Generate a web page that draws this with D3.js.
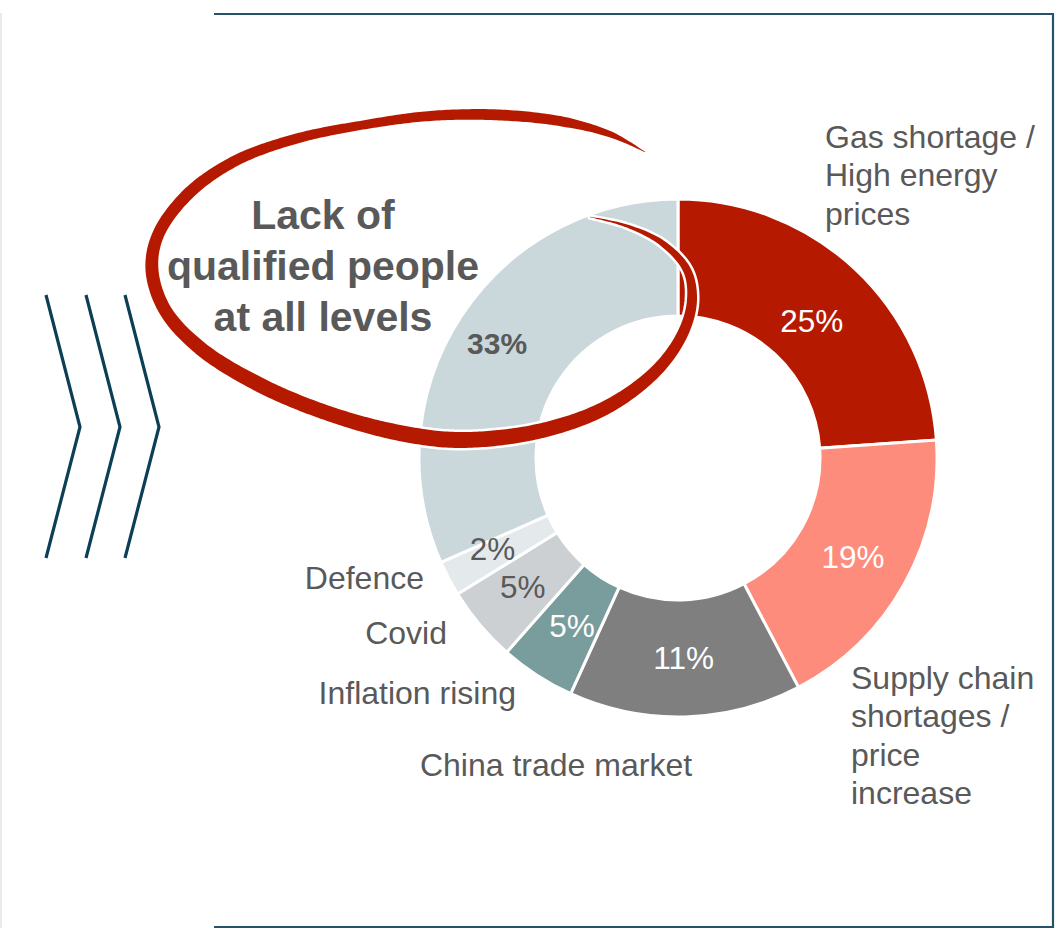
<!DOCTYPE html>
<html>
<head>
<meta charset="utf-8">
<script src="https://cdn.jsdelivr.net/npm/d3@7"></script>
<style>
  html, body { margin: 0; padding: 0; background: #ffffff; }
  svg { display: block; }
  text { font-family: "Liberation Sans", Arial, Helvetica, sans-serif; }
</style>
</head>
<body>
<svg id="chart" width="1062" height="930"></svg>
<script>
// ---------------- data ----------------
const categories = ["Gas shortage / High energy prices", "Supply chain shortages / price increase",
  "China trade market", "Inflation rising", "Covid", "Defence", "Lack of qualified people at all levels"];
// slice sizes as drawn (share of the ring)
const values = [23.9, 18.4, 14.5, 4.7, 4.7, 2.2, 31.6];
// percentage labels printed on the slices
const valueLabels = ["25%", "19%", "11%", "5%", "5%", "2%", "33%"];
const outsideLabels = [
  ["Gas shortage /", "High energy", "prices"],
  ["Supply chain", "shortages /", "price", "increase"],
  ["China trade market"],
  ["Inflation rising"],
  ["Covid"],
  ["Defence"],
  []
];
const highlightText = ["Lack of", "qualified people", "at all levels"];

// ---------------- styles / layout ----------------
const colors = ["#B51A00", "#FE8C7C", "#7F7F7F", "#799C9D", "#CDD0D3", "#E4E9EC", "#CAD8DC"];
const labelColors = ["#ffffff", "#ffffff", "#ffffff", "#ffffff", "#595959", "#595959", "#595959"];
const labelWeights = ["normal", "normal", "normal", "normal", "normal", "normal", "bold"];
const labelNudge = [[-3, 10], [0, 1], [0, 0], [3, 0], [-2, 0], [-8, -2], [-13, -5]];
// outside label anchors: [x, firstBaseline, anchor]
const outsideLayout = [
  [825, 148, "start"], [851, 689, "start"], [556, 776, "middle"],
  [516, 704, "end"], [447, 644, "end"], [424, 589, "end"], null
];
const cx = 678, cy = 458, rOuter = 259, rInner = 142;
const textGrey = "#595959";
const frameColor = "#24536A";

const svg = d3.select("#chart");

// ---------------- frame ----------------
svg.append("line").attr("x1", 1).attr("x2", 1).attr("y1", 13).attr("y2", 928)
  .attr("stroke", "#E6EBEE").attr("stroke-width", 2);
svg.append("path")
  .attr("d", d3.line()([[214, 14], [1053, 14], [1053, 927], [214, 927]]))
  .attr("fill", "none").attr("stroke", frameColor).attr("stroke-width", 2.2);

// chevrons
const chevX = [46, 86, 125];
chevX.forEach(x0 => {
  svg.append("path")
    .attr("d", d3.line()([[x0, 295], [x0 + 34, 427], [x0, 558]]))
    .attr("fill", "none").attr("stroke", "#0C3F56").attr("stroke-width", 3.2);
});

// ---------------- donut ----------------
const pie = d3.pie().sort(null).value(d => d).startAngle(0).endAngle(2 * Math.PI);
const arcs = pie(values);
const arc = d3.arc().innerRadius(rInner).outerRadius(rOuter);
const g = svg.append("g").attr("transform", `translate(${cx},${cy})`);
g.selectAll("path.slice").data(arcs).join("path")
  .attr("class", "slice")
  .attr("d", arc)
  .attr("fill", (d, i) => colors[i])
  .attr("stroke", "#ffffff").attr("stroke-width", 3).attr("stroke-linejoin", "miter");

g.selectAll("text.val").data(arcs).join("text")
  .attr("class", "val")
  .attr("x", (d, i) => arc.centroid(d)[0] + labelNudge[i][0])
  .attr("y", (d, i) => arc.centroid(d)[1] + labelNudge[i][1])
  .attr("dy", "0.35em")
  .attr("text-anchor", "middle")
  .attr("font-size", (d, i) => labelWeights[i] === "bold" ? 30 : 31.5)
  .attr("font-weight", (d, i) => labelWeights[i])
  .attr("fill", (d, i) => labelColors[i])
  .text((d, i) => valueLabels[i]);

// outside labels
outsideLabels.forEach((lines, i) => {
  const lay = outsideLayout[i];
  if (!lay || !lines.length) return;
  const t = svg.append("text")
    .attr("x", lay[0]).attr("y", lay[1])
    .attr("text-anchor", lay[2])
    .attr("font-size", 32).attr("fill", textGrey);
  lines.forEach((ln, j) => {
    t.append("tspan").attr("x", lay[0]).attr("dy", j === 0 ? 0 : 38.3).text(ln);
  });
});

// ---------------- hand-drawn highlight ring ----------------
const ring = [
  [645,152,0.5],[612,135,6],[565,122,10],[500,115,11],[430,116,10],[363,125,9],[295,139,10],
  [235,161,11],[188,194,12],[158,235,12],[152,270,13],[165,310,13],[200,348,14],[260,385,15],
  [330,414,15],[400,433,16],[460,440,16],[540,431,15],[607,407,14],[657,370,12],[683,333,11],
  [692,300,10],[687,270,8],[662,243,6],[627,226,3],[590,217,0.5]
];
(function drawRing() {
  const tmp = svg.append("path")
    .attr("d", d3.line().curve(d3.curveCatmullRom.alpha(0.5))(ring.map(p => [p[0], p[1]])))
    .attr("fill", "none");
  const node = tmp.node();
  const L = node.getTotalLength();
  const cum = [0];
  for (let i = 1; i < ring.length; i++) {
    cum.push(cum[i - 1] + Math.hypot(ring[i][0] - ring[i - 1][0], ring[i][1] - ring[i - 1][1]));
  }
  const tot = cum[cum.length - 1];
  const widthAt = f => {
    const s = f * tot;
    for (let i = 1; i < cum.length; i++) {
      if (s <= cum[i]) {
        const u = (s - cum[i - 1]) / (cum[i] - cum[i - 1]);
        return ring[i - 1][2] + u * (ring[i][2] - ring[i - 1][2]);
      }
    }
    return ring[ring.length - 1][2];
  };
  const N = 500, left = [], right = [];
  for (let k = 0; k <= N; k++) {
    const s = L * k / N;
    const p = node.getPointAtLength(s);
    const a = node.getPointAtLength(Math.max(0, s - 0.8));
    const b = node.getPointAtLength(Math.min(L, s + 0.8));
    let tx = b.x - a.x, ty = b.y - a.y;
    const len = Math.hypot(tx, ty) || 1;
    tx /= len; ty /= len;
    const w = widthAt(k / N) / 2;
    left.push([p.x - ty * w, p.y + tx * w]);
    right.push([p.x + ty * w, p.y - tx * w]);
  }
  tmp.remove();
  const poly = left.concat(right.reverse());
  svg.append("path")
    .attr("d", d3.line()(poly) + "Z")
    .attr("fill", "#B51A00")
    .attr("stroke", "#ffffff").attr("stroke-width", 5)
    .attr("stroke-linejoin", "round")
    .attr("paint-order", "stroke");
})();

// highlight text
const ht = svg.append("text")
  .attr("x", 323).attr("y", 229)
  .attr("text-anchor", "middle")
  .attr("font-size", 41).attr("font-weight", "bold").attr("fill", textGrey);
highlightText.forEach((ln, j) => {
  ht.append("tspan").attr("x", 323).attr("dy", j === 0 ? 0 : 51).text(ln);
});
</script>
</body>
</html>
